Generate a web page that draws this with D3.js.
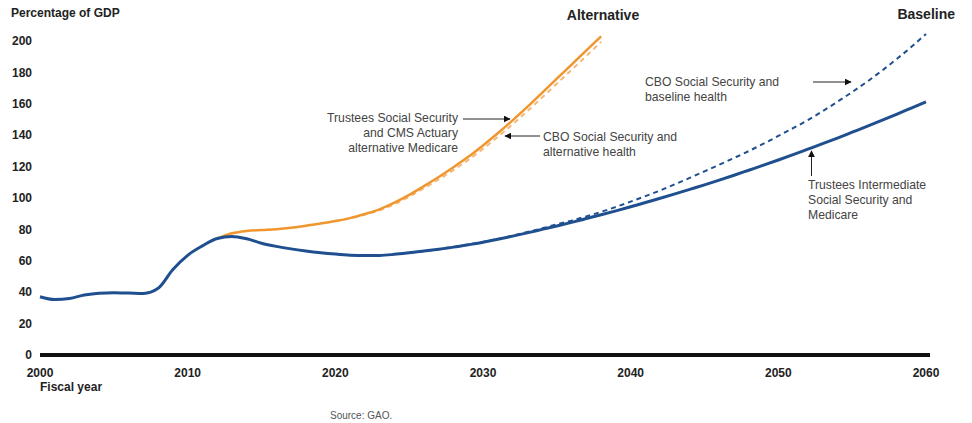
<!DOCTYPE html>
<html>
<head>
<meta charset="utf-8">
<script src="https://cdn.jsdelivr.net/npm/d3@7"></script>
<style>
  body { margin: 0; background: #fff; }
  svg text { font-family: "Liberation Sans", Arial, sans-serif; }
</style>
</head>
<body>
<div id="chart"></div>
<script>
// data (percent of GDP)
const histYears = d3.range(2000, 2061);
const trusteesBaseline = [37.1, 35.3, 36.0, 38.2, 39.4, 39.7, 39.5, 39.2, 42.5, 54.5,
  63.5, 69.5, 74.2, 75.5, 74.0, 71.2, 69.2, 67.6, 66.3, 65.2,
  64.3, 63.6, 63.3, 63.4, 64.1, 65.1, 66.2, 67.4, 68.7, 70.2,
  71.8, 73.7, 75.7, 77.8, 80.0, 82.2, 84.5, 86.9, 89.3, 91.8,
  94.4, 97.1, 99.8, 102.6, 105.5, 108.4, 111.4, 114.5, 117.7, 120.9,
  124.2, 127.6, 131.1, 134.6, 138.2, 141.9, 145.6, 149.4, 153.3, 157.3, 161.3];

const cboBaseYears = d3.range(2025, 2061);
const cboBaseline = [65.1, 66.2, 67.4, 68.8, 70.3, 72.0, 73.9, 76.0, 78.3, 80.7,
  83.2, 85.6, 88.3, 91.2, 94.3, 97.7, 101.2, 104.8, 108.8, 112.8,
  117.0, 121.2, 125.5, 129.9, 134.6, 139.5, 144.5, 149.6, 155.3, 161.3,
  167.5, 174.0, 181.0, 188.4, 196.2, 204.5];

const altYears = d3.range(2012, 2039);
const trusteesAlt = [74.2, 77.5, 79.0, 79.6, 80.1, 81.0, 82.3, 83.7, 85.3, 87.2,
  89.8, 92.8, 97.0, 102.0, 107.6, 113.4, 119.6, 126.2, 133.5, 141.2,
  149.4, 158.0, 167.0, 176.0, 185.0, 194.0, 203.0];

const cboAltYears = d3.range(2020, 2039);
const cboAlt = [85.3, 87.0, 89.4, 92.2, 96.0, 100.8, 106.2, 111.8, 117.8, 124.3,
  131.3, 138.9, 146.9, 155.3, 164.0, 172.8, 181.6, 190.5, 199.5];

const yTicks = [0, 20, 40, 60, 80, 100, 120, 140, 160, 180, 200];
const xTicks = [2000, 2010, 2020, 2030, 2040, 2050, 2060];

const W = 972, H = 423;
const blue = "#1f4f8f", orange = "#f0962e", orangeLight = "#f5b878";

const svg = d3.select("#chart").append("svg")
  .attr("width", W).attr("height", H);

const x = d3.scaleLinear().domain([2000, 2060]).range([40, 926]);
const y = d3.scaleLinear().domain([0, 200]).range([355, 41]);

svg.append("defs").append("marker")
  .attr("id", "arr")
  .attr("viewBox", "0 0 10 10")
  .attr("refX", 9).attr("refY", 5)
  .attr("markerWidth", 7).attr("markerHeight", 7)
  .attr("markerUnits", "userSpaceOnUse")
  .attr("orient", "auto")
  .append("path").attr("d", "M0,0 L10,5 L0,10 Z").attr("fill", "#111");

// y tick labels
svg.append("g")
  .selectAll("text")
  .data(yTicks)
  .enter()
  .append("text")
  .attr("x", 32)
  .attr("y", d => y(d))
  .attr("dy", "0.35em")
  .attr("text-anchor", "end")
  .attr("font-size", "12px")
  .attr("font-weight", "bold")
  .attr("fill", "#222")
  .text(d => d);

// x tick labels
svg.append("g")
  .selectAll("text")
  .data(xTicks)
  .enter()
  .append("text")
  .attr("x", d => x(d))
  .attr("y", 377)
  .attr("text-anchor", "middle")
  .attr("font-size", "12px")
  .attr("font-weight", "bold")
  .attr("fill", "#222")
  .text(d => d);

// baseline
svg.append("line")
  .attr("x1", x(2000)).attr("x2", x(2060) + 4)
  .attr("y1", y(0)).attr("y2", y(0))
  .attr("stroke", "#111").attr("stroke-width", 4);

const line = (xs, ys) => d3.line()
  .x((d, i) => x(xs[i]))
  .y(d => y(d))
  .curve(d3.curveMonotoneX)(ys);

svg.append("path").attr("d", line(cboAltYears, cboAlt))
  .attr("fill", "none").attr("stroke", orangeLight)
  .attr("stroke-width", 2).attr("stroke-dasharray", "5,4");
svg.append("path").attr("d", line(altYears, trusteesAlt))
  .attr("fill", "none").attr("stroke", orange).attr("stroke-width", 2.5);
svg.append("path").attr("d", line(cboBaseYears, cboBaseline))
  .attr("fill", "none").attr("stroke", blue)
  .attr("stroke-width", 2).attr("stroke-dasharray", "5,4");
svg.append("path").attr("d", line(histYears, trusteesBaseline))
  .attr("fill", "none").attr("stroke", blue).attr("stroke-width", 3);

// titles
const bold = (t, xx, yy, size, anchor) => svg.append("text")
  .attr("x", xx).attr("y", yy)
  .attr("font-size", size).attr("font-weight", "bold")
  .attr("fill", "#222").attr("text-anchor", anchor || "start")
  .text(t);

bold("Percentage of GDP", 11, 17, "12px");
bold("Fiscal year", 40, 391, "12px");
bold("Alternative", 603, 20, "14px", "middle");
bold("Baseline", 955, 19, "14px", "end");

svg.append("text")
  .attr("x", 330).attr("y", 419)
  .attr("font-size", "10px").attr("fill", "#555")
  .text("Source: GAO.");

// annotations
const note = (lines, xx, yy, anchor) => {
  const t = svg.append("text")
    .attr("x", xx).attr("y", yy)
    .attr("font-size", "12.2px").attr("fill", "#444")
    .attr("text-anchor", anchor || "start");
  lines.forEach((l, i) => t.append("tspan").attr("x", xx).attr("dy", i ? 15 : 0).text(l));
};
const arrow = (x1, y1, x2, y2) => svg.append("line")
  .attr("x1", x1).attr("y1", y1).attr("x2", x2).attr("y2", y2)
  .attr("stroke", "#222").attr("stroke-width", 1)
  .attr("marker-end", "url(#arr)");

note(["Trustees Social Security", "and CMS Actuary", "alternative Medicare"], 458, 122, "end");
arrow(463, 119, 510, 119);
note(["CBO Social Security and", "alternative health"], 543, 141);
arrow(540, 136, 505, 136);
note(["CBO Social Security and", "baseline health"], 645, 86);
arrow(813, 82, 851, 82);
note(["Trustees Intermediate", "Social Security and", "Medicare"], 808, 189);
arrow(811.5, 176, 811.5, 151);
</script>
</body>
</html>
